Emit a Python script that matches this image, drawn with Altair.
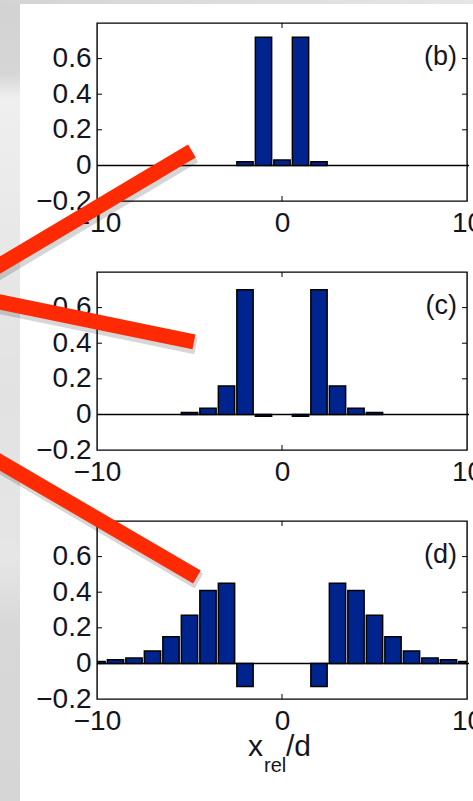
import altair as alt
import pandas as pd

# ---------------- data ----------------
b_pos = [-2, -1, 0, 1, 2]
b_val = [0.02, 0.72, 0.03, 0.72, 0.02]

c_pos = [-5, -4, -3, -2, -1, 1, 2, 3, 4, 5]
c_val = [0.01, 0.035, 0.16, 0.70, -0.01, -0.01, 0.70, 0.16, 0.035, 0.01]

d_pos = [-10, -9, -8, -7, -6, -5, -4, -3, -2, 2, 3, 4, 5, 6, 7, 8, 9, 10]
d_val = [0.01, 0.02, 0.03, 0.07, 0.15, 0.27, 0.41, 0.45, -0.13,
         -0.13, 0.45, 0.41, 0.27, 0.15, 0.07, 0.03, 0.02, 0.01]

x_ticks = [-10, 0, 10]
y_ticks = [-0.2, 0, 0.2, 0.4, 0.6]
x_inner_ticks = [0]
y_inner_ticks = [0.2, 0.4, 0.6]
panel_labels = ["(b)", "(c)", "(d)"]
x_title = ["x", "rel", "/d"]

# red pointer strokes, in each panel's data units: [x0, y0, x1, y1]
pointer_b = [-16.86, -0.66, -4.87, 0.081]
pointer_c = [-16.86, 0.666, -4.76, 0.407]
pointer_d = [-16.86, 1.23, -4.60, 0.485]

# ---------------- styling ----------------
W, H = 370, 178
FONT = "Liberation Sans"
TXT = "#14141e"
NAVY = "#00248e"
RED = "#fe2a03"

xs = alt.Scale(domain=[-10, 10], nice=False, zero=False)
ys = alt.Scale(domain=[-0.2, 0.8], nice=False, zero=False)
AX = alt.Axis(values=x_ticks, format="d", ticks=False, domain=False, grid=False,
              labelFontSize=28, labelFont=FONT, labelColor=TXT, labelPadding=8,
              labelFlush=False, labelOverlap=False, labelBound=False, title=None)
AY = alt.Axis(values=y_ticks, format=".1~f", ticks=False, domain=False, grid=False,
              labelFontSize=28, labelFont=FONT, labelColor=TXT, labelPadding=6,
              labelOverlap=False, labelBound=False, title=None)

one = pd.DataFrame({"k": [0]})


def X(f):
    return alt.X(f, type="quantitative", scale=xs, axis=AX)


def Y(f):
    return alt.Y(f, type="quantitative", scale=ys, axis=AY)


def panel(pos, val, label, pointer, extra_front=(), extra_back=()):
    df = pd.DataFrame({"pos": pos, "val": val})
    zero = alt.Chart(pd.DataFrame({"z": [0]})).mark_rule(
        color="black", strokeWidth=1.5).encode(
        y=Y("z"), x=alt.value(0), x2=alt.value(372))
    bars = alt.Chart(df).transform_calculate(
        lo="datum.pos - 0.44", hi="datum.pos + 0.44", base="0"
    ).mark_rect(fill=NAVY, stroke="black", strokeWidth=1.5, clip=True).encode(
        x=X("lo"), x2="hi:Q", y=Y("val"), y2="base:Q")
    yt = pd.DataFrame({"t": y_inner_ticks})
    xt = pd.DataFrame({"t": x_inner_ticks})
    lt = alt.Chart(yt).mark_rule(color="black", strokeWidth=1).encode(
        y=Y("t"), x=alt.value(0), x2=alt.value(5))
    rt = alt.Chart(yt).mark_rule(color="black", strokeWidth=1).encode(
        y=Y("t"), x=alt.value(W - 5), x2=alt.value(W))
    bt = alt.Chart(xt).mark_rule(color="black", strokeWidth=1).encode(
        x=X("t"), y=alt.value(H - 5), y2=alt.value(H))
    tt = alt.Chart(xt).mark_rule(color="black", strokeWidth=1).encode(
        x=X("t"), y=alt.value(0), y2=alt.value(5))
    lab = alt.Chart(pd.DataFrame({"lab": [label]})).mark_text(
        align="right", baseline="middle", fontSize=27, font=FONT, color=TXT).encode(
        text="lab:N", x=alt.value(360), y=alt.value(34))
    pdf = pd.DataFrame({"x0": [pointer[0]], "y0": [pointer[1]],
                        "x1": [pointer[2]], "y1": [pointer[3]]})
    shadow = alt.Chart(pdf).mark_rule(
        color="black", opacity=0.16, strokeWidth=17, strokeCap="butt",
        xOffset=2, yOffset=4, x2Offset=2, y2Offset=4).encode(
        x=X("x0"), y=Y("y0"), x2="x1:Q", y2="y1:Q")
    line = alt.Chart(pdf).mark_rule(color=RED, strokeWidth=15, strokeCap="butt").encode(
        x=X("x0"), y=Y("y0"), x2="x1:Q", y2="y1:Q")
    layers = list(extra_back) + [zero, bars, lt, rt, bt, tt, lab] + list(extra_front) + [shadow, line]
    return alt.layer(*layers).properties(width=W, height=H)


# background strips of the photographed slide (drawn in the first panel)
strip_grad = alt.LinearGradient(
    gradient="linear", x1=0, x2=0, y1=0, y2=1,
    stops=[alt.GradientStop(color="#d2d2d2", offset=0.0),
           alt.GradientStop(color="#d6d6d6", offset=0.10),
           alt.GradientStop(color="#efefef", offset=0.13),
           alt.GradientStop(color="#e8e8e8", offset=0.30),
           alt.GradientStop(color="#e2e2e2", offset=0.50),
           alt.GradientStop(color="#e6e6e6", offset=0.70),
           alt.GradientStop(color="#d8d8d8", offset=0.78),
           alt.GradientStop(color="#d6d6d6", offset=1.0)])
top_grad = alt.LinearGradient(
    gradient="linear", x1=0, x2=1, y1=0, y2=0,
    stops=[alt.GradientStop(color="#d4d4d4", offset=0.0),
           alt.GradientStop(color="#e6e6e6", offset=1.0)])
left_strip = alt.Chart(one).mark_rect(fill=strip_grad).encode(
    x=alt.value(-97), x2=alt.value(-77), y=alt.value(-30), y2=alt.value(780))
top_strip = alt.Chart(one).mark_rect(fill=top_grad).encode(
    x=alt.value(-97), x2=alt.value(380), y=alt.value(-30), y2=alt.value(-19))

# axis title x_rel/d (drawn under the last panel)
t_x = alt.Chart(pd.DataFrame({"s": [x_title[0]]})).mark_text(
    align="left", baseline="alphabetic", fontSize=30, font=FONT, color=TXT).encode(
    text="s:N", x=alt.value(151), y=alt.value(235))
t_rel = alt.Chart(pd.DataFrame({"s": [x_title[1]]})).mark_text(
    align="left", baseline="alphabetic", fontSize=20, font=FONT, color=TXT).encode(
    text="s:N", x=alt.value(167), y=alt.value(251))
t_d = alt.Chart(pd.DataFrame({"s": [x_title[2]]})).mark_text(
    align="left", baseline="alphabetic", fontSize=30, font=FONT, color=TXT).encode(
    text="s:N", x=alt.value(189), y=alt.value(235))

pb = panel(b_pos, b_val, panel_labels[0], pointer_b, extra_back=[left_strip, top_strip])
pc = panel(c_pos, c_val, panel_labels[1], pointer_c)
pd_ = panel(d_pos, d_val, panel_labels[2], pointer_d, extra_front=[t_x, t_rel, t_d])

chart = alt.vconcat(pb, pc, pd_, spacing=71, bounds="flush").properties(
    autosize=alt.AutoSizeParams(type="none"),
    padding={"left": 97, "top": 23, "right": 6, "bottom": 778},
).configure(background="white").configure_view(stroke="black", strokeWidth=1.4)

chart.save("out.html", embed_options={"renderer": "svg", "actions": False})
